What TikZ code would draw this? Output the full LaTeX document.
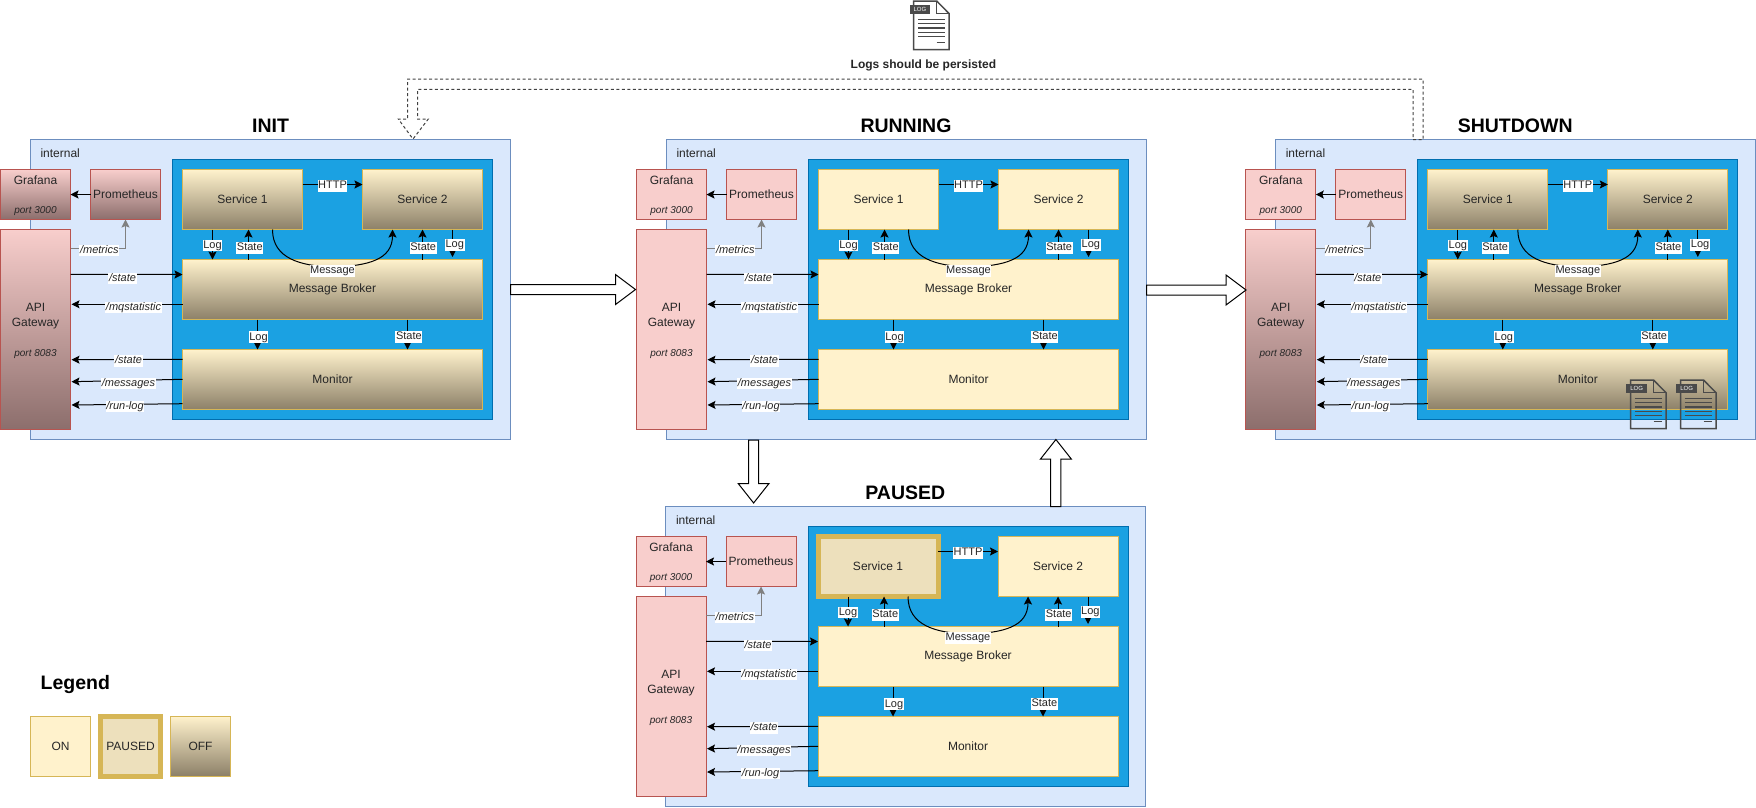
\documentclass[tikz,border=0pt]{standalone}
\usepackage{fontspec}
\setmainfont{Liberation Sans}
\usetikzlibrary{arrows.meta,calc}
\definecolor{outerfill}{HTML}{DAE8FC}
\definecolor{outerline}{HTML}{6C8EBF}
\definecolor{bluefill}{HTML}{1BA1E2}
\definecolor{blueline}{HTML}{006EAF}
\definecolor{onfill}{HTML}{FFF2CC}
\definecolor{online}{HTML}{D6B656}
\definecolor{offend}{HTML}{8C8068}
\definecolor{pausefill}{HTML}{EDE0BC}
\definecolor{redfill}{HTML}{F8CECC}
\definecolor{redline}{HTML}{B85450}
\definecolor{redend}{HTML}{8C6E6C}
\definecolor{txt}{HTML}{262626}
\definecolor{iconc}{HTML}{4A4A4A}
\tikzset{
  boxbase/.style={draw,line width=1pt,inner sep=0pt,outer sep=0pt,font=\fontsize{12}{14.4}\selectfont,text=txt,align=center},
  onbox/.style={boxbase,draw=online,fill=onfill},
  offbox/.style={boxbase,draw=online,top color=onfill,bottom color=offend,middle color=onfill!50!offend},
  pausebox/.style={boxbase,draw=online,fill=pausefill,line width=5pt},
  redbox/.style={boxbase,draw=redline,fill=redfill},
  redoff/.style={boxbase,draw=redline,top color=redfill,bottom color=redend,middle color=redfill!50!redend},
  outerbox/.style={boxbase,draw=outerline,fill=outerfill},
  bluebox/.style={boxbase,draw=blueline,fill=bluefill},
  arr/.style={line width=1pt,draw=black,-{Stealth[length=8pt,width=8pt,inset=1.5pt]}},
  grayarr/.style={line width=1pt,draw=black!50,-{Stealth[length=8pt,width=8pt,inset=1.5pt]}},
  elab/.style={fill=white,inner sep=0.6pt,yshift=-1pt,text height=8pt,text depth=2.4pt,font=\fontsize{11}{13}\selectfont,text=txt},
  ilab/.style={elab,font=\fontsize{11}{13}\itshape\selectfont},
  title/.style={font=\fontsize{19.5}{22}\bfseries\selectfont,inner sep=0pt,text=black,text height=14pt,text depth=4pt},
  blockarr/.style={draw=black,fill=white,line width=1pt,line join=miter},
  dashbox/.style={draw=black!75,line width=1pt,dash pattern=on 3pt off 2.5pt},
}
% box by its edges
\newcommand{\edgebox}[7][]{%
  \node[#2,#1,minimum width={(#5)-(#4)},minimum height={(#7)-(#6)}] at ({((#4)+(#5))/2},{((#6)+(#7))/2}) #3;}
% prefix, left of the panel, top of the panel, s1 style, other style, graf/prom style, api style
\newcommand{\statepanel}[7]{%
  \def\Xo{#2}\def\Yo{#3}%
  \edgebox{outerbox}{(#1-o){}}{\Xo}{\Xo+480}{\Yo}{\Yo+300}
  \node[font=\fontsize{12}{14}\selectfont,text=txt,anchor=west,inner sep=0pt] (#1-int) at ({\Xo+10.3},{\Yo+14}) {internal};
  \edgebox{bluebox}{(#1-b){}}{\Xo+142.5}{\Xo+462.5}{\Yo+20}{\Yo+280}
  \edgebox{#6}{(#1-g){\rule{0pt}{10.5pt}Grafana\\[14.6pt]{\fontsize{10}{12}\itshape\selectfont port 3000}}}{\Xo-29.5}{\Xo+40.5}{\Yo+30}{\Yo+80}
  \edgebox{#6}{(#1-p){Prometheus}}{\Xo+60.5}{\Xo+130.5}{\Yo+30}{\Yo+80}
  \edgebox{#7}{(#1-a){\rule{0pt}{11.5pt}API\\Gateway\\[15.7pt]{\fontsize{10}{12}\itshape\selectfont port 8083}}}{\Xo-29.5}{\Xo+40.5}{\Yo+90}{\Yo+290}
  \edgebox{#4}{(#1-s1){Service 1}}{\Xo+152.5}{\Xo+272.5}{\Yo+30}{\Yo+90}
  \edgebox{#5}{(#1-s2){Service 2}}{\Xo+332.5}{\Xo+452.5}{\Yo+30}{\Yo+90}
  \edgebox{#5}{(#1-mb){\raisebox{-1.6pt}{Message Broker}}}{\Xo+152.5}{\Xo+452.5}{\Yo+120}{\Yo+180}
  \edgebox{#5}{(#1-mon){Monitor}}{\Xo+152.5}{\Xo+452.5}{\Yo+210}{\Yo+270}
  \coordinate (#1-c1) at ($(#1-s1.south west)!.25!(#1-s1.south east)$);
  \coordinate (#1-c2) at ($(#1-s1.south west)!.55!(#1-s1.south east)$);
  \coordinate (#1-c3) at ($(#1-s1.south west)!.75!(#1-s1.south east)$);
  \coordinate (#1-c4) at ($(#1-s2.south west)!.25!(#1-s2.south east)$);
  \coordinate (#1-c5) at (#1-s2.south);
  \coordinate (#1-c6) at ($(#1-s2.south west)!.75!(#1-s2.south east)$);
  \coordinate (#1-c7) at ($(#1-mb.south west)!.25!(#1-mb.south east)$);
  \coordinate (#1-c8) at ($(#1-mb.south west)!.75!(#1-mb.south east)$);
  \coordinate (#1-m) at ($(#1-c3)!.5!(#1-c4)+(0,37.5)$);
  \coordinate (#1-lx) at ($(#1-a.north east)!.5!(#1-mb.north west)$);
  \coordinate (#1-mx) at ($(#1-a.north east)!.5!(#1-p.south)$);
  \draw[arr] (#1-p.west) -- (#1-g.east);
  \draw[grayarr] ($(#1-a.north east)+(0,19.2)$) -| (#1-p.south);
  \draw[arr] ($(#1-s1.east)+(0,-15)$) -- ($(#1-s2.west)+(0,-15)$);
  \draw[arr] (#1-c1) -- (#1-c1 |- #1-mb.north);
  \draw[arr] (#1-c2 |- #1-mb.north) -- (#1-c2);
  \draw[arr] (#1-c3) .. controls +(0,29) and +(-32,-1) .. (#1-m) .. controls +(36,-1) and +(0,30) .. (#1-c4);
  \draw[arr] (#1-c5 |- #1-mb.north) -- (#1-c5);
  \draw[arr] (#1-c6) -- ($(#1-c6 |- #1-mb.north)+(0,-2.5)$);
  \draw[arr] (#1-c7) -- (#1-c7 |- #1-mon.north);
  \draw[arr] (#1-c8) -- (#1-c8 |- #1-mon.north);
  \draw[arr] ($(#1-a.north east)+(0,44.8)$) -- ($(#1-mb.north west)+(0,15)$);
  \draw[arr] ($(#1-mb.north west)+(0,44.8)$) -- ($(#1-a.north east)+(1,74.8)$);
  \draw[arr] ($(#1-mon.north west)+(0,9.8)$) -- ($(#1-a.north east)+(1,130.2)$);
  \draw[arr] ($(#1-mon.north west)+(0,29.8)$) -- ($(#1-a.north east)+(1,152.2)$);
  \draw[arr] ($(#1-mon.north west)+(0,54.2)$) -- ($(#1-a.north east)+(1,175.5)$);
  \node[elab] (#1-l1) at ($(#1-c1)+(0,14.8)$) {Log};
  \node[elab] (#1-l2) at ($(#1-c2)+(1.3,17.5)$) {State};
  \node[elab] (#1-l3) at ($(#1-m)+(0,3)$) {Message};
  \node[elab] (#1-l4) at ($(#1-s1.east)!.5!(#1-s2.west)+(0,-14.5)$) {HTTP};
  \node[elab] (#1-l5) at ($(#1-c5)+(0.7,17.5)$) {State};
  \node[elab] (#1-l6) at ($(#1-c6)+(2.3,14.2)$) {Log};
  \node[elab] (#1-l7) at ($(#1-c7)+(1,16.7)$) {Log};
  \node[elab] (#1-l8) at ($(#1-c8)+(1.4,16.3)$) {State};
  \node[ilab] (#1-l9) at ($(#1-mx |- #1-a.north)+(1.3,19.8)$) {/metrics};
  \node[ilab] (#1-l10) at ($(#1-lx |- #1-mb.north)+(-4,17.8)$) {/state};
  \node[ilab] (#1-l11) at ($(#1-lx |- #1-mb.north)+(7,46.8)$) {/mqstatistic};
  \node[ilab] (#1-l12) at ($(#1-lx |- #1-mon.north)+(2,10.5)$) {/state};
  \node[ilab] (#1-l13) at ($(#1-lx |- #1-mon.north)+(2,32.8)$) {/messages};
  \node[ilab] (#1-l14) at ($(#1-lx |- #1-mon.north)+(-1.5,55.8)$) {/run-log};
}
% log file icon: name, left of the page, top of the page
\newcommand{\logicon}[3]{%
  \draw[iconc,line width=1.5pt,line join=miter] (#2,#3) -- ++(23,0) -- ++(12.5,12.7) -- ++(0,36) -- ++(-35.5,0) -- cycle;
  \draw[iconc,line width=1.2pt] ({#2+23},#3) -- ++(0,12.7) -- ++(12.5,0);
  \foreach \k in {0,1,2,3,4}{\draw[iconc,line width=1.2pt] ({#2+4.4},{#3+18.3+\k*4.3}) -- ++(27.1,0);}
  \draw[iconc,line width=1.2pt] ({#2+23},{#3+41.7}) -- ++(8.5,0);
  \node[fill=iconc,text=white,inner sep=0pt,minimum width=20.5pt,minimum height=8.7pt,font=\fontsize{6}{7}\selectfont] (#1) at ({#2+6.2},{#3+8.4}) {LOG};
}
\begin{document}
\begin{tikzpicture}[x=1pt,y=-1pt]
\path[use as bounding box] (0,0) rectangle (1756,807);
\statepanel{i}{30}{139.5}{offbox}{offbox}{redoff}{redoff}
\statepanel{r}{666}{139.5}{onbox}{onbox}{redbox}{redbox}
\statepanel{s}{1275.3}{139.5}{offbox}{offbox}{redbox}{redoff}
\statepanel{p}{665.5}{506.5}{pausebox}{onbox}{redbox}{redbox}
% titles
\node[title] (t-i) at (270.5,127.3) {INIT};
\node[title] (t-r) at (906,127.3) {RUNNING};
\node[title] (t-s) at (1515.2,127.3) {SHUTDOWN};
\node[title] (t-p) at (905.3,494) {PAUSED};
% transitions
\draw[blockarr] ($(i-o.east)+(0.5,-5)$) -- ++(105,0) -- ++(0,-10) -- ++(20,15) -- ++(-20,15) -- ++(0,-10) -- ++(-105,0) -- cycle;
\draw[blockarr] ($(r-o.east)+(0.5,-4.5)$) -- ++(79.5,0) -- ++(0,-10) -- ++(20,15) -- ++(-20,15) -- ++(0,-10) -- ++(-79.5,0) -- cycle;
\draw[blockarr] ($(r-o.south)+(-157.5,0.5)$) -- ++(0,43.5) -- ++(-10.3,0) -- ++(15.4,19.5) -- ++(15.4,-19.5) -- ++(-10.3,0) -- ++(0,-43.5) -- cycle;
\draw[blockarr] ($(p-o.north)+(145,0)$) -- ++(0,-47.5) -- ++(-10,0) -- ++(15.4,-19.5) -- ++(15.4,19.5) -- ++(-10.4,0) -- ++(0,47.5) -- cycle;
% persisted logs arrow
\draw[dashbox] (1413,139.5) -- (1423,139.5) -- (1423,79) -- (407.5,79) -- (407.5,119) -- (398.3,119) -- (413,139) -- (428.3,119) -- (417.5,119) -- (417.5,89.3) -- (1413,89.3) -- cycle;
\logicon{log-top}{913.7}{1}
\node[font=\fontsize{12}{14}\bfseries\selectfont,inner sep=0pt,text=txt] (logtxt) at (923.4,65) {Logs should be persisted};
\logicon{log-a}{1630.5}{380}
\logicon{log-b}{1680.5}{380}
% legend
\node[title] (t-l) at (75.3,684.3) {Legend};
\edgebox{onbox}{(l-on){ON}}{30.3}{90.7}{716.3}{776.3}
\edgebox{pausebox}{(l-pa){PAUSED}}{100.3}{160.7}{716.3}{776.3}
\edgebox{offbox}{(l-of){OFF}}{170.3}{230.7}{716.3}{776.3}
\end{tikzpicture}
\end{document}
